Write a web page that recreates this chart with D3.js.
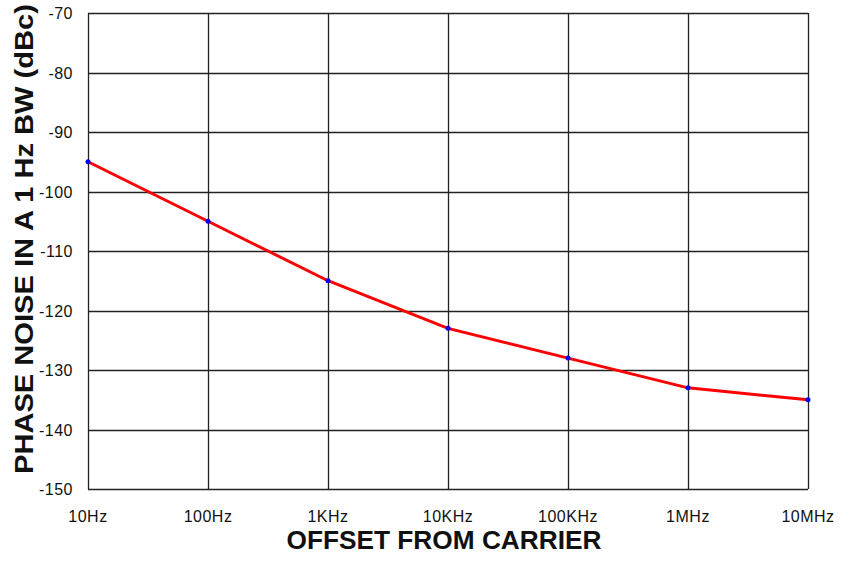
<!DOCTYPE html>
<html>
<head>
<meta charset="utf-8">
<script src="https://cdn.jsdelivr.net/npm/d3@7"></script>
<style>
  body { margin: 0; background: #fff; }
  svg text { font-family: "Liberation Sans", Arial, sans-serif; }
</style>
</head>
<body>
<svg id="chart" width="843" height="561"></svg>
<script>
// offsets in Hz and phase noise in dBc
var offsets = [10, 100, 1e3, 1e4, 1e5, 1e6, 1e7];
var noise = [-95, -105, -115, -123, -128, -133, -135];
var xTickLabels = ["10Hz", "100Hz", "1KHz", "10KHz", "100KHz", "1MHz", "10MHz"];
var yTicks = [-70, -80, -90, -100, -110, -120, -130, -140, -150];

var svg = d3.select("#chart");
var plotLeft = 88, plotRight = 808, plotTop = 13, plotBottom = 489;

var x = d3.scaleLog().domain([10, 1e7]).range([plotLeft, plotRight]);
var y = d3.scaleLinear().domain([-150, -70]).range([plotBottom, plotTop]);

var grid = svg.append("g");
grid.selectAll("line.v")
    .data(offsets)
    .enter().append("line")
    .attr("x1", function(d) { return Math.round(x(d)) + 0.5; })
    .attr("x2", function(d) { return Math.round(x(d)) + 0.5; })
    .attr("y1", plotTop).attr("y2", plotBottom)
    .attr("stroke", "#222").attr("stroke-width", 1.3);
grid.selectAll("line.h")
    .data(yTicks)
    .enter().append("line")
    .attr("y1", function(d) { return Math.round(y(d)) + 0.5; })
    .attr("y2", function(d) { return Math.round(y(d)) + 0.5; })
    .attr("x1", plotLeft).attr("x2", plotRight)
    .attr("stroke", "#222").attr("stroke-width", 1.3);

svg.append("g").selectAll("text")
    .data(yTicks)
    .enter().append("text")
    .attr("x", 73)
    .attr("y", function(d) { return y(d) + 6; })
    .attr("text-anchor", "end")
    .attr("font-size", 16)
    .attr("letter-spacing", 0.5)
    .attr("fill", "#111")
    .text(function(d) { return d; });

svg.append("g").selectAll("text")
    .data(offsets)
    .enter().append("text")
    .attr("x", function(d) { return x(d); })
    .attr("y", 522)
    .attr("text-anchor", "middle")
    .attr("font-size", 16)
    .attr("letter-spacing", 0.5)
    .attr("fill", "#111")
    .text(function(d, i) { return xTickLabels[i]; });

var line = d3.line()
    .x(function(d, i) { return x(offsets[i]); })
    .y(function(d) { return y(d); });

svg.append("path")
    .datum(noise)
    .attr("d", line)
    .attr("fill", "none")
    .attr("stroke", "#ff0000")
    .attr("stroke-width", 3);

svg.append("g").selectAll("circle")
    .data(noise)
    .enter().append("circle")
    .attr("cx", function(d, i) { return x(offsets[i]); })
    .attr("cy", function(d) { return y(d); })
    .attr("r", 2.5)
    .attr("fill", "#0000ff");

svg.append("text")
    .attr("x", 444)
    .attr("y", 549)
    .attr("text-anchor", "middle")
    .attr("font-size", 25)
    .attr("font-weight", "bold")
    .attr("textLength", 315)
    .attr("lengthAdjust", "spacingAndGlyphs")
    .attr("fill", "#111")
    .text("OFFSET FROM CARRIER");

svg.append("text")
    .attr("transform", "translate(33,239) rotate(-90)")
    .attr("text-anchor", "middle")
    .attr("font-size", 25)
    .attr("font-weight", "bold")
    .attr("textLength", 470)
    .attr("lengthAdjust", "spacingAndGlyphs")
    .attr("fill", "#111")
    .text("PHASE NOISE IN A 1 Hz BW (dBc)");
</script>
</body>
</html>
